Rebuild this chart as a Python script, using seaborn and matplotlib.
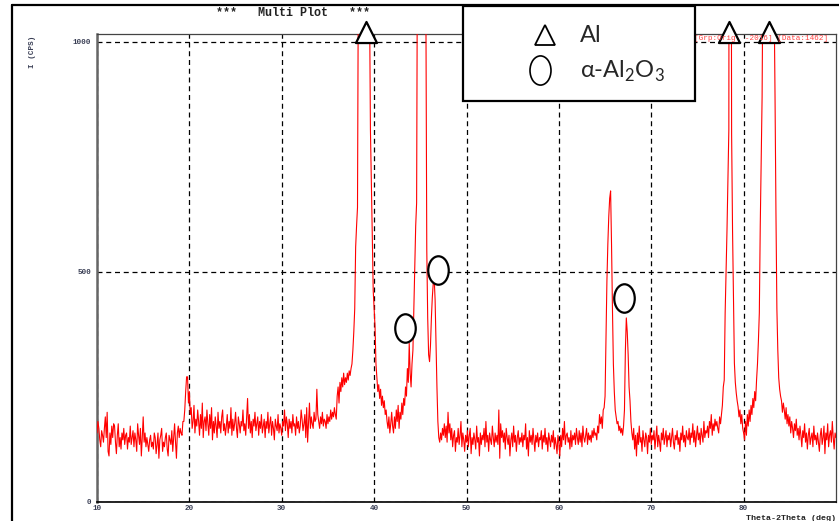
"""
XRD multi plot: Al / alpha-Al2O3 peaks
"""

import numpy as np
import seaborn as sns
import matplotlib.pyplot as plt
from matplotlib.path import Path
from matplotlib.transforms import Affine2D
from matplotlib.lines import Line2D
from matplotlib.patches import Rectangle

# --- 1. DATA (0.1 deg step from 10 to 90) ---
angle_start, angle_step = 10.0, 0.1

counts = [
    # 10-12
    150, 175, 160, 135, 120, 155, 145, 130, 160, 185, 140, 195, 110, 100, 150, 125, 165, 140, 170, 165,
    130, 105, 145, 170, 120, 140, 115, 150, 135, 160, 125, 145, 150, 115, 140, 130, 165, 125, 140, 155,
    120, 150, 135, 110, 170, 145, 125, 160, 100, 140, 185, 130, 150, 120, 140, 125, 110, 135, 145, 120,
    130, 115, 150, 140, 105, 125, 150, 95, 135, 145, 160, 110, 130, 120, 140, 150, 115, 100, 145, 135,
    125, 155, 110, 140, 170, 130, 95, 150, 165, 140, 160, 150, 145, 175, 175, 200, 240, 272, 272, 215,
    # 20-30
    240, 190, 205, 160, 175, 210, 150, 180, 165, 200, 175, 145, 190, 160, 215, 140, 175, 185, 155, 200,
    170, 145, 190, 160, 205, 135, 175, 150, 185, 165, 140, 195, 160, 175, 150, 185, 200, 155, 170, 145,
    165, 190, 150, 175, 160, 205, 145, 180, 155, 170, 195, 160, 140, 185, 170, 150, 175, 165, 200, 155,
    170, 145, 185, 225, 160, 190, 150, 175, 140, 180, 165, 195, 155, 170, 185, 145, 175, 160, 190, 150,
    165, 180, 140, 175, 160, 195, 150, 170, 185, 145, 175, 160, 135, 180, 165, 155, 190, 150, 170, 160,
    # 30-40
    145, 175, 165, 200, 155, 185, 170, 140, 180, 160, 175, 150, 190, 165, 170, 145, 185, 160, 175, 150,
    165, 200, 180, 155, 170, 190, 140, 205, 130, 175, 215, 160, 185, 170, 160, 195, 175, 180, 245, 190,
    175, 160, 185, 170, 195, 165, 180, 175, 160, 190, 170, 185, 175, 200, 180, 195, 185, 205, 190, 180,
    230, 250, 215, 260, 240, 270, 250, 280, 255, 270, 260, 280, 265, 285, 275, 290, 300, 330, 370, 420,
    554, 600, 640, 1200, 2500, 4000, 5000, 5200, 4800, 4000, 3500, 3000, 2400, 1800, 1400, 1100, 809, 700, 580, 460,
    # 40-50
    420, 380, 300, 270, 240, 255, 225, 245, 210, 230, 205, 220, 190, 200, 175, 160, 185, 150, 170, 195,
    165, 150, 185, 160, 200, 175, 210, 160, 195, 180, 215, 190, 225, 210, 250, 230, 290, 260, 345, 280,
    250, 300, 330, 420, 520, 600, 650, 1300, 3000, 5000, 6000, 5500, 4500, 3500, 2500, 1600, 1100, 548, 400, 320,
    305, 340, 400, 445, 475, 487, 440, 340, 250, 175, 140, 130, 150, 135, 160, 145, 170, 140, 165, 130,
    195, 150, 170, 135, 160, 120, 145, 155, 110, 140, 130, 160, 125, 145, 175, 120, 150, 135, 110, 145,
    # 50-60
    130, 155, 120, 145, 160, 105, 140, 125, 150, 135, 115, 165, 130, 140, 100, 150, 125, 145, 135, 160,
    120, 175, 130, 145, 110, 150, 135, 125, 165, 140, 120, 150, 130, 145, 125, 200, 95, 170, 140, 155,
    130, 150, 115, 160, 140, 125, 145, 100, 135, 150, 120, 165, 130, 145, 110, 140, 155, 125, 140, 130,
    150, 120, 145, 135, 170, 115, 140, 100, 155, 130, 145, 125, 160, 135, 110, 145, 130, 150, 120, 140,
    135, 155, 115, 145, 130, 160, 125, 140, 110, 150, 135, 120, 145, 130, 155, 115, 140, 125, 105, 145,
    # 60-70
    130, 100, 145, 120, 160, 135, 175, 125, 145, 150, 130, 140, 115, 155, 120, 145, 135, 150, 125, 160,
    140, 125, 155, 130, 150, 120, 165, 140, 130, 145, 160, 125, 150, 135, 145, 130, 155, 140, 160, 145,
    150, 135, 165, 150, 190, 170, 185, 160, 200, 205, 230, 360, 480, 560, 620, 660, 676, 560, 420, 300,
    240, 200, 185, 170, 175, 155, 165, 150, 160, 145, 165, 200, 330, 400, 370, 320, 250, 220, 175, 150,
    135, 160, 115, 145, 100, 150, 125, 165, 130, 140, 110, 155, 135, 120, 150, 140, 105, 145, 130, 160,
    # 70-80
    125, 145, 135, 155, 115, 140, 165, 120, 145, 130, 110, 150, 135, 160, 125, 140, 155, 120, 145, 135,
    150, 120, 140, 160, 130, 115, 145, 135, 155, 125, 140, 110, 150, 135, 165, 130, 145, 120, 155, 140,
    135, 160, 125, 150, 140, 170, 130, 155, 120, 145, 165, 135, 150, 125, 160, 145, 130, 175, 140, 155,
    150, 165, 140, 175, 160, 190, 145, 170, 155, 180, 165, 175, 160, 150, 185, 170, 190, 210, 250, 265,
    411, 500, 591, 700, 809, 3000, 2000, 800, 591, 450, 302, 260, 237, 220, 207, 185, 200, 170, 190, 160,
    # 80-90
    150, 135, 175, 145, 190, 165, 200, 175, 210, 190, 225, 205, 240, 220, 265, 300, 350, 411, 600, 737,
    880, 1200, 2000, 3000, 3500, 3600, 3500, 3300, 3000, 2600, 2200, 1800, 1400, 1100, 880, 628, 420, 330, 270, 245,
    230, 220, 195, 215, 200, 180, 205, 170, 190, 165, 185, 150, 175, 160, 140, 170, 155, 180, 145, 160,
    135, 165, 145, 120, 155, 140, 170, 130, 150, 115, 145, 160, 125, 140, 150, 120, 165, 135, 145, 125,
    150, 130, 110, 145, 160, 125, 140, 165, 105, 150, 135, 170, 120, 145, 155, 130, 175, 140, 115, 150,
    140,
]
two_theta = np.round(angle_start + angle_step * np.arange(len(counts)), 2)

# phase markers
al_peaks_x = [39.1, 78.4, 82.7]
al_peaks_y = [1022, 1022, 1022]
alumina_x = [43.3, 46.9, 67.1]
alumina_y = [378, 504, 443]

x_ticks = [10, 20, 30, 40, 50, 60, 70, 80]
y_ticks = [0, 500, 1000]

# --- 2. STYLE ---
sns.set_style("white")
plt.rcParams['font.family'] = ['Liberation Mono', 'DejaVu Sans Mono']
plt.rcParams['mathtext.fontset'] = 'custom'
plt.rcParams['mathtext.rm'] = 'Lato'

fig = plt.figure(figsize=(8.39, 5.21), dpi=100)
W, H = 839, 521
ax = fig.add_axes([97 / W, 1 - 502 / H, (836 - 97) / W, (502 - 34) / H])

# --- 3. PLOT ---
sns.lineplot(x=two_theta, y=counts, ax=ax, color='red', lw=0.8, sort=False, zorder=3)

ax.set_xlim(10, 90)
ax.set_ylim(0, 1017)
ax.set_xticks(x_ticks)
ax.set_yticks(y_ticks)
ax.set_xticks(np.arange(10, 90, 1), minor=True)
ax.set_yticks(np.arange(0, 1001, 100), minor=True)
ax.grid(True, which='major', color='black', ls=(0, (4, 3)), lw=0.9, zorder=1)
ax.tick_params(axis='both', which='major', labelsize=5.5, labelcolor='#3a3f55',
               length=3, width=0.8, pad=1)
ax.tick_params(axis='x', which='major', length=0, pad=2)
ax.tick_params(axis='x', which='minor', length=2, width=0.6, direction='in')
ax.tick_params(axis='y', which='minor', length=2, width=0.6, direction='out')
for lbl in ax.get_xticklabels() + ax.get_yticklabels():
    lbl.set_fontweight('bold')
ax.set_xlabel('')
ax.set_ylabel('')
for side in ['top', 'right']:
    ax.spines[side].set_color('#444444')
    ax.spines[side].set_linewidth(0.9)
ax.spines['left'].set_color('#666666')
ax.spines['left'].set_linewidth(1.8)
ax.spines['bottom'].set_color('black')
ax.spines['bottom'].set_linewidth(1.2)

# triangle (Al) and ellipse (alpha-Al2O3) markers
ellipse = Path.unit_circle().transformed(Affine2D().scale(0.72, 1.0))
ax.scatter(al_peaks_x, al_peaks_y, marker='^', s=230, facecolor='white',
           edgecolor='black', linewidth=1.6, zorder=6, clip_on=False)
ax.scatter(alumina_x, alumina_y, marker=ellipse, s=420, facecolor='white',
           edgecolor='black', linewidth=1.6, zorder=6, clip_on=False)

# --- 4. FIGURE TEXT / FRAME ---
fig.add_artist(Line2D([12 / W, 12 / W], [0, 1 - 5 / H], color='black', lw=1.6))
fig.add_artist(Line2D([12 / W, 1], [1 - 5 / H, 1 - 5 / H], color='black', lw=1.6))
fig.text(293 / W, 1 - 13 / H, '***   Multi Plot   ***', ha='center', va='center',
         fontsize=8.5, fontweight='bold', color='#222222')
fig.text(33 / W, 1 - 52 / H, 'I (CPS)', rotation=90, ha='center', va='center',
         fontsize=5.5, fontweight='bold', color='#3a3f55')
fig.text(836 / W, 1 - 518 / H, 'Theta-2Theta (deg)', ha='right', va='center',
         fontsize=6, fontweight='bold', color='#222222')
fig.text(828 / W, 1 - 38 / H, '[Grp:Orig  -2016] [Data:1462]', ha='right', va='center',
         fontsize=5.5, color='#ff4040', zorder=4)

# legend box
fig.add_artist(Rectangle((463 / W, 1 - 101 / H), (695 - 463) / W, (101 - 6) / H,
                         facecolor='white', edgecolor='black', lw=1.6,
                         transform=fig.transFigure, zorder=5))
fig.add_artist(Line2D([545 / W], [1 - 35 / H], marker='^', markersize=15,
                      markerfacecolor='white', markeredgecolor='black', mew=1.3,
                      ls='none', zorder=7))
fig.add_artist(Line2D([540 / W], [1 - 70 / H], marker=ellipse, markersize=21,
                      markerfacecolor='white', markeredgecolor='black', mew=1.2,
                      ls='none', zorder=7))
fig.text(580 / W, 1 - 36 / H, 'Al', ha='left', va='center', fontsize=17,
         family='Lato', zorder=8)
fig.text(580 / W, 1 - 71 / H, r'α-Al$_\mathregular{2}$O$_\mathregular{3}$', ha='left',
         va='center', fontsize=17, family='Lato', zorder=8)

plt.savefig('out.png', dpi=100)
